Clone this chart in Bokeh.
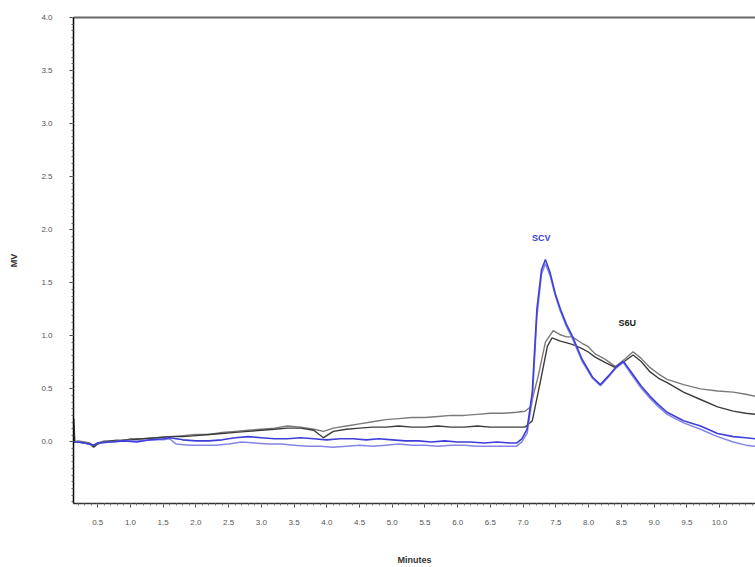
from bokeh.plotting import figure
from bokeh.models import LinearAxis, FixedTicker, Range1d, Label
from bokeh.embed import file_html
from bokeh.resources import INLINE

# ---------------- data ----------------
g1_x = [0.13, 0.2, 0.3, 0.38, 0.44, 0.5, 0.6, 0.7, 0.8, 0.9, 1.0, 1.2, 1.4, 1.6, 1.8, 2.0, 2.2, 2.4,
        2.6, 2.8, 3.0, 3.2, 3.4, 3.6, 3.8, 3.95, 4.1, 4.3, 4.5, 4.7, 4.9, 5.1, 5.3, 5.5, 5.7, 5.9,
        6.1, 6.3, 6.5, 6.7, 6.9, 7.03, 7.11, 7.23, 7.34, 7.46, 7.57, 7.66, 7.75, 7.90, 7.99, 8.1,
        8.25, 8.41, 8.55, 8.68, 8.8, 8.94, 9.07, 9.20, 9.45, 9.71, 9.97, 10.21, 10.4, 10.55]
g1_y = [0.0, 0.01, 0.0, -0.01, -0.04, -0.01, 0.01, 0.01, 0.02, 0.01, 0.03, 0.03, 0.04, 0.05, 0.06, 0.07, 0.07, 0.09,
        0.10, 0.11, 0.12, 0.13, 0.15, 0.14, 0.12, 0.10, 0.13, 0.15, 0.17, 0.19, 0.21, 0.22, 0.23, 0.23, 0.24, 0.25,
        0.25, 0.26, 0.27, 0.27, 0.28, 0.29, 0.33, 0.62, 0.94, 1.05, 1.01, 0.99, 0.99, 0.93, 0.90, 0.83,
        0.78, 0.71, 0.78, 0.85, 0.79, 0.70, 0.64, 0.59, 0.54, 0.50, 0.48, 0.47, 0.45, 0.43]

g2_x = [0.13, 0.135, 0.15, 0.2, 0.3, 0.38, 0.44, 0.5, 0.6, 0.7, 0.8, 0.9, 1.0, 1.2, 1.4, 1.6, 1.8, 2.0,
        2.2, 2.4, 2.6, 2.8, 3.0, 3.2, 3.4, 3.6, 3.8, 3.95, 4.1, 4.3, 4.5, 4.7, 4.9, 5.1, 5.3, 5.5,
        5.7, 5.9, 6.1, 6.3, 6.5, 6.7, 6.9, 7.03, 7.14, 7.26, 7.37, 7.44, 7.57, 7.75, 7.90, 7.99,
        8.1, 8.25, 8.41, 8.55, 8.68, 8.8, 8.94, 9.07, 9.20, 9.45, 9.71, 9.97, 10.21, 10.4, 10.55]
g2_y = [0.0, 0.22, 0.0, 0.0, -0.01, -0.02, -0.05, -0.02, 0.0, 0.01, 0.01, 0.02, 0.02, 0.03, 0.04, 0.05, 0.05, 0.06,
        0.07, 0.08, 0.09, 0.10, 0.11, 0.12, 0.13, 0.13, 0.11, 0.04, 0.10, 0.12, 0.13, 0.14, 0.14, 0.15, 0.14, 0.14,
        0.15, 0.14, 0.14, 0.15, 0.14, 0.14, 0.14, 0.14, 0.20, 0.56, 0.90, 0.98, 0.95, 0.92, 0.88, 0.85,
        0.80, 0.75, 0.70, 0.76, 0.82, 0.76, 0.66, 0.60, 0.56, 0.47, 0.40, 0.33, 0.29, 0.27, 0.26]

b1_x = [0.13, 0.2, 0.3, 0.44, 0.5, 0.7, 0.9, 1.1, 1.3, 1.5, 1.6, 1.8, 2.0, 2.2, 2.4, 2.6, 2.8, 3.0,
        3.2, 3.4, 3.6, 3.8, 4.0, 4.2, 4.4, 4.6, 4.8, 5.0, 5.2, 5.4, 5.6, 5.8, 6.0, 6.2, 6.4, 6.6,
        6.8, 6.9, 6.98, 7.06, 7.14, 7.21, 7.28, 7.34, 7.41, 7.49, 7.57, 7.66, 7.75, 7.90, 8.06, 8.18,
        8.3, 8.41, 8.53, 8.65, 8.8, 8.94, 9.07, 9.20, 9.45, 9.71, 9.97, 10.21, 10.4, 10.55]
b1_y = [0.0, 0.0, -0.01, -0.03, -0.01, 0.0, 0.01, 0.0, 0.02, 0.03, 0.04, 0.02, 0.01, 0.01, 0.02, 0.04, 0.05, 0.04,
        0.03, 0.03, 0.04, 0.03, 0.02, 0.03, 0.03, 0.02, 0.03, 0.02, 0.01, 0.01, 0.0, 0.01, 0.0, 0.0, -0.01, 0.0,
        -0.01, -0.01, 0.03, 0.12, 0.47, 1.25, 1.62, 1.72, 1.60, 1.40, 1.25, 1.11, 1.00, 0.78, 0.61, 0.54,
        0.62, 0.70, 0.76, 0.66, 0.53, 0.43, 0.35, 0.28, 0.20, 0.15, 0.08, 0.05, 0.04, 0.03]

b2_x = [0.13, 0.2, 0.3, 0.44, 0.5, 0.7, 0.9, 1.1, 1.3, 1.5, 1.6, 1.7, 1.9, 2.1, 2.3, 2.5, 2.7, 2.9,
        3.1, 3.3, 3.5, 3.7, 3.9, 4.1, 4.3, 4.5, 4.7, 4.9, 5.1, 5.3, 5.5, 5.7, 5.9, 6.1, 6.3, 6.5,
        6.7, 6.9, 6.98, 7.06, 7.14, 7.21, 7.28, 7.34, 7.41, 7.49, 7.57, 7.66, 7.75, 7.90, 8.06, 8.18,
        8.3, 8.41, 8.53, 8.65, 8.8, 8.94, 9.07, 9.20, 9.45, 9.71, 9.97, 10.21, 10.4, 10.55]
b2_y = [0.0, 0.0, -0.01, -0.03, -0.01, 0.0, 0.01, 0.01, 0.02, 0.02, 0.03, -0.02, -0.03, -0.03, -0.03, -0.02, 0.0, -0.01,
        -0.02, -0.02, -0.03, -0.04, -0.04, -0.05, -0.04, -0.03, -0.04, -0.03, -0.02, -0.03, -0.03, -0.04, -0.03, -0.03, -0.04, -0.04,
        -0.04, -0.04, 0.0, 0.08, 0.40, 1.18, 1.58, 1.68, 1.57, 1.38, 1.23, 1.09, 0.98, 0.76, 0.60, 0.53,
        0.61, 0.69, 0.75, 0.64, 0.51, 0.41, 0.33, 0.26, 0.18, 0.12, 0.05, 0.0, -0.03, -0.04]

x_ticks = [0.5, 1.0, 1.5, 2.0, 2.5, 3.0, 3.5, 4.0, 4.5, 5.0, 5.5, 6.0, 6.5, 7.0, 7.5, 8.0, 8.5, 9.0, 9.5, 10.0]
x_tick_labels = ["0.5", "1.0", "1.5", "2.0", "2.5", "3.0", "3.5", "4.0", "4.5", "5.0",
                 "5.5", "6.0", "6.5", "7.0", "7.5", "8.0", "8.5", "9.0", "9.5", "10.0"]
y_ticks = [0.0, 0.5, 1.0, 1.5, 2.0, 2.5, 3.0, 3.5, 4.0]
y_tick_labels = ["0.0", "0.5", "1.0", "1.5", "2.0", "2.5", "3.0", "3.5", "4.0"]

# ---------------- figure ----------------
p = figure(width=755, height=567, output_backend="svg", toolbar_location=None,
           x_range=Range1d(0.13, 10.55), y_range=Range1d(-0.58, 4.0),
           min_border_left=73, min_border_right=0, min_border_top=17, min_border_bottom=62,
           x_axis_label="Minutes", y_axis_label="MV")
p.outline_line_color = None
p.xgrid.visible = False
p.ygrid.visible = False
p.background_fill_color = "white"
p.border_fill_color = "white"

font = "Liberation Sans"

yax = p.yaxis[0]
yax.ticker = FixedTicker(ticks=y_ticks,
                         minor_ticks=[round(-0.5625 + i * 0.0625, 4) for i in range(74)])
yax.major_label_overrides = {t: l for t, l in zip(y_ticks, y_tick_labels)}
yax.axis_line_color = "black"
yax.axis_line_width = 1.5
yax.major_tick_in = 0
yax.major_tick_out = 4
yax.minor_tick_in = 0
yax.minor_tick_out = 2
yax.major_tick_line_color = "#444444"
yax.minor_tick_line_color = "#666666"
yax.major_label_text_font = font
yax.major_label_text_font_size = "8px"
yax.major_label_text_color = "#555555"
yax.major_label_standoff = 17
yax.axis_label_text_font = font
yax.axis_label_text_font_size = "9px"
yax.axis_label_text_font_style = "bold"
yax.axis_label_text_color = "#333333"
yax.axis_label_standoff = 19

xax = p.xaxis[0]
xax.ticker = FixedTicker(ticks=x_ticks,
                         minor_ticks=[round(0.2 + i * 0.1, 3) for i in range(104)])
xax.major_label_overrides = {t: l for t, l in zip(x_ticks, x_tick_labels)}
xax.axis_line_color = "#333333"
xax.axis_line_width = 1.5
xax.major_tick_in = 0
xax.major_tick_out = 4
xax.minor_tick_in = 0
xax.minor_tick_out = 2
xax.major_tick_line_color = "#444444"
xax.minor_tick_line_color = "#777777"
xax.major_label_text_font = font
xax.major_label_text_font_size = "8px"
xax.major_label_text_color = "#555555"
xax.major_label_standoff = 12
xax.axis_label_text_font = font
xax.axis_label_text_font_size = "9px"
xax.axis_label_text_font_style = "bold"
xax.axis_label_text_color = "#333333"
xax.axis_label_standoff = 27

top = LinearAxis(ticker=FixedTicker(ticks=[]), major_label_text_font_size="0px",
                 major_tick_out=0, minor_tick_out=0, major_label_standoff=0,
                 axis_line_color="#666666", axis_line_width=2)
p.add_layout(top, "above")

p.line(g1_x, g1_y, line_color="#7a7a7a", line_width=1.4)
p.line(g2_x, g2_y, line_color="#3c3c3c", line_width=1.4)
p.line(b2_x, b2_y, line_color="#8585e6", line_width=1.5)
p.line(b1_x, b1_y, line_color="#3f3fd8", line_width=1.6)

p.add_layout(Label(x=7.275, y=1.925, text="SCV", text_color="#3d3ddb", text_font=font,
                   text_font_size="9px", text_font_style="bold",
                   text_align="center", text_baseline="middle"))
p.add_layout(Label(x=8.59, y=1.117, text="S6U", text_color="#222222", text_font=font,
                   text_font_size="9px", text_font_style="bold",
                   text_align="center", text_baseline="middle"))

open("out.html", "w").write(file_html(p, INLINE))
